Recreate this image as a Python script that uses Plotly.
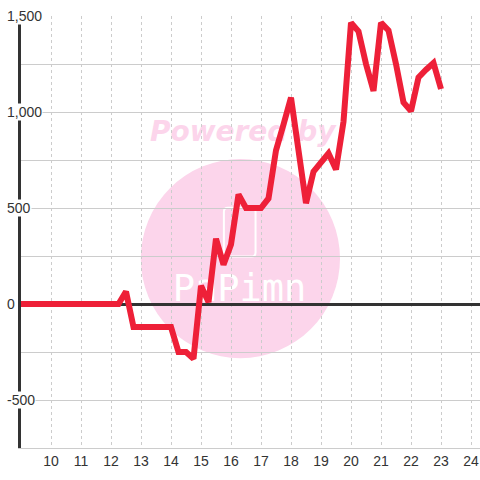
import plotly.graph_objects as go

# ---- data ----
hours = [9.0, 9.25, 9.5, 9.75, 10.0, 10.25, 10.5, 10.75, 11.0, 11.25, 11.5, 11.75,
         12.0, 12.25, 12.5, 12.75, 13.0, 13.25, 13.5, 13.75, 14.0, 14.25, 14.5, 14.75,
         15.0, 15.25, 15.5, 15.75, 16.0, 16.25, 16.5, 16.75, 17.0, 17.25, 17.5, 17.75,
         18.0, 18.25, 18.5, 18.75, 19.0, 19.25, 19.5, 19.75, 20.0, 20.25, 20.5, 20.75,
         21.0, 21.25, 21.5, 21.75, 22.0, 22.25, 22.5, 22.75, 23.0]
values = [0, 0, 0, 0, 0, 0, 0, 0, 0, 0, 0, 0,
          0, 0, 65, -120, -120, -120, -120, -120, -120, -250, -250, -285,
          95, 10, 340, 205, 310, 570, 500, 500, 500, 550, 800, 935,
          1075, 800, 525, 690, 740, 785, 700, 950, 1465, 1420, 1250, 1110,
          1465, 1425, 1250, 1050, 1005, 1180, 1220, 1255, 1120]

x_ticks = [10, 11, 12, 13, 14, 15, 16, 17, 18, 19, 20, 21, 22, 23, 24]
x_tick_text = ["10", "11", "12", "13", "14", "15", "16", "17", "18", "19", "20", "21", "22", "23", "24"]
y_label_vals = [-500, 0, 500, 1000, 1500]
y_label_text = ["-500", "0", "500", "1,000", "1,500"]

watermark_top = "Powered by"
watermark_logo = "PaPimn"

LINE_RED = "#ee2038"
PINK = "#fcd5eb"
GRID = "#cccccc"
DARK = "#333333"
FONT = "Liberation Sans, Arial, sans-serif"

fig = go.Figure()

# watermark texts on a hidden helper subplot (drawn beneath the chart's grid)
fig.add_trace(go.Scatter(
    x=[0.483], y=[0.727], mode="text", text=[watermark_top],
    textfont=dict(family="DejaVu Sans", size=28, color=PINK, weight="bold", style="italic"),
    xaxis="x", yaxis="y", hoverinfo="skip", showlegend=False))
fig.add_trace(go.Scatter(
    x=[0.476], y=[0.362], mode="text", text=[watermark_logo],
    textfont=dict(family="DejaVu Sans Mono", size=37, color="white"),
    xaxis="x", yaxis="y", hoverinfo="skip", showlegend=False))

# main data line
fig.add_trace(go.Scatter(
    x=hours, y=values, mode="lines",
    line=dict(color=LINE_RED, width=6),
    xaxis="x2", yaxis="y2", showlegend=False,
    hovertemplate="%{x}: %{y:,}<extra></extra>"))

shapes = [
    dict(type="circle", xref="paper", yref="paper", layer="below",
         x0=0.261, x1=0.695, y0=0.208, y1=0.669,
         fillcolor=PINK, line=dict(width=0)),
]
# logo icon outline (rounded rectangle)
x0, x1, y0, y1 = 0.442, 0.511, 0.443, 0.556
rx, ry = 0.009, 0.0095
path = (f"M {x0+rx} {y0} L {x1-rx} {y0} Q {x1} {y0} {x1} {y0+ry} "
        f"L {x1} {y1-ry} Q {x1} {y1} {x1-rx} {y1} L {x0+rx} {y1} "
        f"Q {x0} {y1} {x0} {y1-ry} L {x0} {y0+ry} Q {x0} {y0} {x0+rx} {y0} Z")
shapes.append(dict(type="path", xref="paper", yref="paper", layer="below",
                   path=path, line=dict(color="white", width=2)))

annotations = []
for v, t in zip(y_label_vals, y_label_text):
    annotations.append(dict(
        x=-0.033, xref="paper", y=v, yref="y2", text=t, showarrow=False,
        xanchor="left", yanchor="middle", bgcolor="white", borderpad=0,
        font=dict(family=FONT, size=14, color=DARK)))

fig.update_layout(
    width=480, height=480,
    margin=dict(l=21, r=0, t=16, b=32),
    paper_bgcolor="white",
    plot_bgcolor="rgba(0,0,0,0)",
    showlegend=False,
    shapes=shapes,
    annotations=annotations,
    xaxis=dict(domain=[0, 1], range=[0, 1], visible=False, fixedrange=True),
    yaxis=dict(domain=[0, 1], range=[0, 1], visible=False, fixedrange=True),
    xaxis2=dict(
        domain=[0, 1], anchor="y2", range=[9.0, 24.3],
        tickvals=x_ticks, ticktext=x_tick_text,
        showgrid=True, gridcolor=GRID, griddash="dot", gridwidth=1,
        showline=True, linecolor=GRID, linewidth=1,
        zeroline=False, ticks="",
        tickfont=dict(family=FONT, size=14, color=DARK),
        layer="below traces"),
    yaxis2=dict(
        domain=[0, 1], anchor="x2", range=[-750, 1500], dtick=250, tick0=0,
        showgrid=True, gridcolor=GRID, gridwidth=1,
        zeroline=True, zerolinecolor=DARK, zerolinewidth=3,
        showline=True, linecolor=DARK, linewidth=3,
        showticklabels=False, ticks="",
        layer="below traces"),
)

fig.write_html("out.html", config={"displayModeBar": False},
               post_script="document.body.style.margin='0px';")
